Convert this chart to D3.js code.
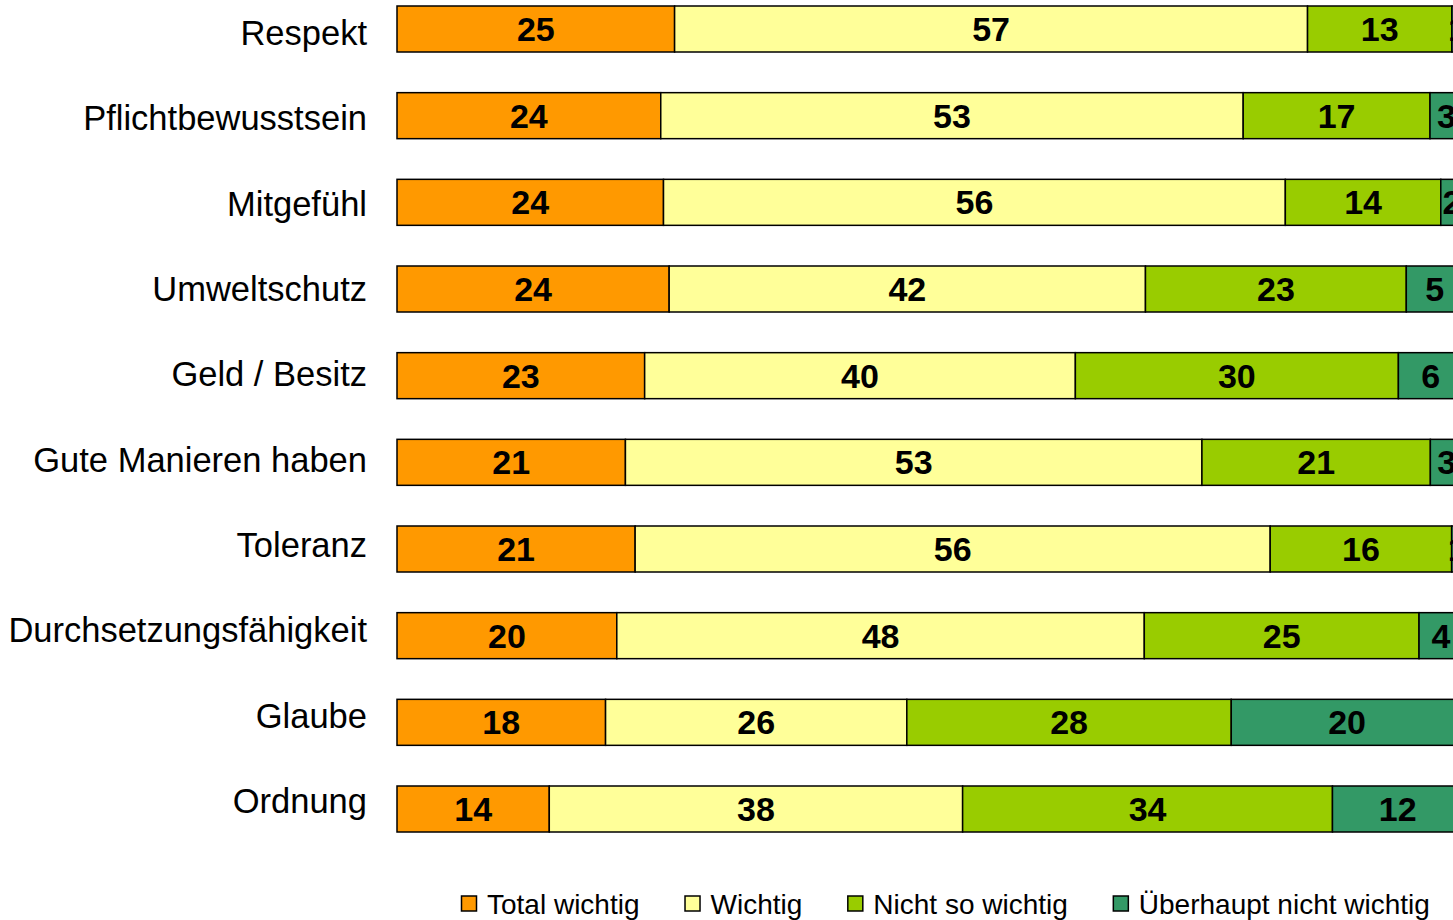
<!DOCTYPE html>
<html>
  <head>
    <meta charset="utf-8">
    <title>Werte</title>
    <script src="https://cdn.jsdelivr.net/npm/d3@7"></script>
    <style>
      body { margin: 0; background: #fff; }
      svg { display: block; font-family: "Liberation Sans", Arial, sans-serif; }
      .cat { font-size: 34.5px; fill: #000; text-anchor: end; }
      .val { font-size: 34px; font-weight: bold; fill: #000; text-anchor: middle; }
      .leg { font-size: 28px; fill: #000; }
    </style>
  </head>

  <body>
    <svg id="chart" width="1453" height="920"></svg>

    <script>
      // data
      categories = ["Respekt", "Pflichtbewusstsein", "Mitgefühl", "Umweltschutz",
        "Geld / Besitz", "Gute Manieren haben", "Toleranz",
        "Durchsetzungsfähigkeit", "Glaube", "Ordnung"];
      series = ["Total wichtig", "Wichtig", "Nicht so wichtig", "Überhaupt nicht wichtig"];
      totalWichtig = [25, 24, 24, 24, 23, 21, 21, 20, 18, 14];
      wichtig = [57, 53, 56, 42, 40, 53, 56, 48, 26, 38];
      nichtSoWichtig = [13, 17, 14, 23, 30, 21, 16, 25, 28, 34];
      ueberhauptNicht = [1, 3, 2, 5, 6, 3, 1, 4, 20, 12];
      colours = ["#ff9900", "#ffff99", "#99cc00", "#339966"];

      // page elements
      chart = d3.select("#chart");
      bars = chart.append("g");
      labels = chart.append("g");
      legend = chart.append("g");

      // rows, each stretched to 100%
      rows = categories.map(function(c, i) {
        let vals = [totalWichtig[i], wichtig[i], nichtSoWichtig[i], ueberhauptNicht[i]];
        let sum = d3.sum(vals);
        let acc = 0;
        return vals.map(function(v, j) {
          let seg = {cat: c, series: j, value: v, x0: acc / sum * 100};
          acc = acc + v;
          seg.x1 = acc / sum * 100;
          return seg;
        });
      });

      // scales
      x = d3.scaleLinear()
        .domain([0, 100])
        .range([397, 1463]);
      y = d3.scalePoint()
        .domain(categories)
        .range([29, 809]);
      yLabel = d3.scalePoint()
        .domain(categories)
        .range([45, 813]);
      colour = d3.scaleOrdinal()
        .domain(d3.range(series.length))
        .range(colours);
      barHeight = 46;

      // bars
      segs = bars.selectAll(".seg")
        .data(rows.flat())
        .enter().append("g")
          .attr("class", "seg");
      segs.append("rect")
        .attr("x", function(d) { return x(d.x0); })
        .attr("y", function(d) { return y(d.cat) - barHeight / 2; })
        .attr("width", function(d) { return x(d.x1) - x(d.x0); })
        .attr("height", barHeight)
        .attr("fill", function(d) { return colour(d.series); })
        .attr("stroke", "#000")
        .attr("stroke-width", 1.5);
      segs.append("text")
        .attr("class", "val")
        .attr("x", function(d) { return (x(d.x0) + x(d.x1)) / 2; })
        .attr("y", function(d) { return y(d.cat) + 12; })
        .text(function(d) { return d.value; });

      // category labels
      labels.selectAll(".cat")
        .data(categories)
        .enter().append("text")
          .attr("class", "cat")
          .attr("x", 367)
          .attr("y", function(d) { return yLabel(d); })
          .text(function(d) { return d; });

      // legend
      let lx = 461;
      series.forEach(function(s, i) {
        let item = legend.append("g")
          .attr("transform", "translate(" + lx + ",0)");
        item.append("rect")
          .attr("x", 0.5)
          .attr("y", 896)
          .attr("width", 15)
          .attr("height", 15)
          .attr("fill", colour(i))
          .attr("stroke", "#000")
          .attr("stroke-width", 1.5);
        let t = item.append("text")
          .attr("class", "leg")
          .attr("x", 26)
          .attr("y", 914)
          .text(s);
        lx = lx + 26 + t.node().getComputedTextLength() + 45;
      });
    </script>
  </body>
</html>
